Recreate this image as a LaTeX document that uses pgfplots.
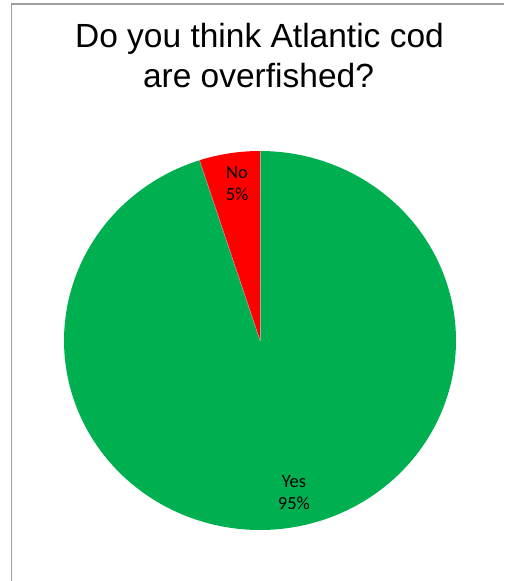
\documentclass[border=0pt]{standalone}
\usepackage{fontspec}
\setmainfont{Liberation Sans}
\newfontfamily\labelfont{Carlito}
\usepackage{pgfplots}
\usepackage{pgfplotstable}
\pgfplotsset{compat=1.18}
\definecolor{yesgreen}{HTML}{00B050}
\definecolor{nored}{HTML}{FF0000}
\definecolor{framegray}{RGB}{160,160,160}
\pgfplotstableread{
Label Value
Yes 95
No 5
}\piedata
\begin{document}
\begin{tikzpicture}
\useasboundingbox (0pt,0pt) rectangle (504pt,-581pt);
% chart area frame (left and top edges visible)
\draw[framegray, line width=1.1pt] (11.5pt,-581pt) -- (11.5pt,-4pt) -- (504pt,-4pt);
% title
\node[anchor=base, font=\fontsize{33.5}{40}\selectfont, inner sep=0pt] at (259.5pt,-47.7pt) {Do you think Atlantic cod};
\node[anchor=base, font=\fontsize{33.5}{40}\selectfont, inner sep=0pt] at (258.5pt,-87.7pt) {are overfished?};
% data
\pgfplotstablegetelem{0}{Value}\of\piedata \let\yesval=\pgfplotsretval
\pgfplotstablegetelem{1}{Value}\of\piedata \let\noval=\pgfplotsretval
\pgfmathsetmacro{\yesstart}{90}
\pgfmathsetmacro{\yesend}{90-3.6*\yesval}
\pgfmathsetmacro{\noend}{\yesend-3.6*\noval}
\begin{axis}[
  at={(260pt,-340.5pt)}, anchor=center,
  scale only axis, width=392pt, height=379pt,
  xmin=-1, xmax=1, ymin=-1, ymax=1,
  hide axis, clip=false,
]
\addplot[fill=yesgreen, draw=none, domain=\yesend:\yesstart, samples=240, variable=\t]
  ({cos(\t)},{sin(\t)}) -- (0,0) -- cycle;
\addplot[fill=nored, draw=none, domain=\noend:\yesend, samples=30, variable=\t]
  ({cos(\t)},{sin(\t)}) -- (0,0) -- cycle;
\draw[gray!70, line width=0.5pt] (0,0) -- (0,1);
\draw[gray!70, line width=0.5pt] (0,0) -- ({cos(\yesend)},{sin(\yesend)});
\node[font=\labelfont\fontsize{18.5}{22}\selectfont, align=center, inner sep=0pt] at (-0.117,0.826) {No\\5\%};
\node[font=\labelfont\fontsize{18.5}{22}\selectfont, align=center, inner sep=0pt] at (0.173,-0.805) {Yes\\95\%};
\end{axis}
\end{tikzpicture}
\end{document}
